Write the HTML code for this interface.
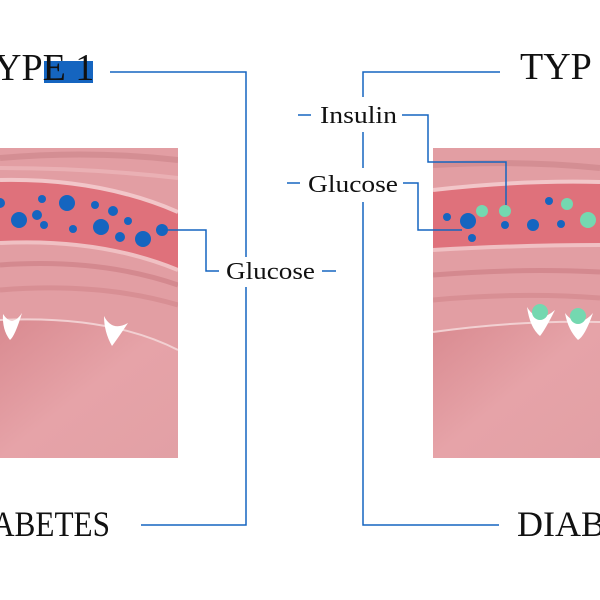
<!DOCTYPE html>
<html><head><style>
html,body{margin:0;padding:0;background:#fff;width:600px;height:600px;overflow:hidden}
text{font-family:"Liberation Serif",serif;fill:#111}
</style></head><body>
<svg width="600" height="600" viewBox="0 0 600 600">
<defs>
<linearGradient id="bg" x1="0" y1="0" x2="1" y2="1"><stop offset="0" stop-color="#d98a90"/><stop offset="0.5" stop-color="#e6a3a8"/><stop offset="1" stop-color="#e2a0a5"/></linearGradient>
<clipPath id="cl"><rect x="0" y="148" width="178" height="310"/></clipPath>
<clipPath id="cr"><rect x="433" y="148" width="167" height="310"/></clipPath>
</defs>
<g clip-path="url(#cl)">
<rect x="0" y="148" width="178" height="310" fill="#e29ea3"/>
<path d="M0 158 Q90 150 178 160" stroke="#d48e93" stroke-width="6" fill="none"/>
<path d="M0 168 Q90 168 178 178" stroke="#eab0b4" stroke-width="4" fill="none"/>
<path d="M0 180 Q100 178 178 212 L178 270 Q100 238 0 243 Z" fill="#df717b"/>
<path d="M0 180 Q100 178 178 212" stroke="#f2c6c9" stroke-width="4" fill="none"/>
<path d="M0 243 Q100 238 178 270" stroke="#f0c0c3" stroke-width="4" fill="none"/>
<path d="M0 265 Q100 258 178 285" stroke="#d4898f" stroke-width="5" fill="none"/>
<path d="M0 290 Q100 282 178 305" stroke="#d88f94" stroke-width="5" fill="none"/>
<path d="M0 320 Q110 315 178 350 L178 458 L0 458 Z" fill="url(#bg)"/>
<path d="M0 320 Q110 315 178 350" stroke="#f2d0d2" stroke-width="2" fill="none"/>
<path d="M3 314 Q12 328 22 313 Q15 336 10 340 Q2 330 3 314Z" fill="#fff"/>
<path d="M104 316 Q112 332 128 323 Q118 338 112 346 Q104 332 104 316Z" fill="#fff"/>
<g fill="#1565c0">
<circle cx="0" cy="203" r="5"/><circle cx="19" cy="220" r="8"/><circle cx="37" cy="215" r="5"/><circle cx="42" cy="199" r="4"/><circle cx="44" cy="225" r="4"/><circle cx="67" cy="203" r="8"/><circle cx="73" cy="229" r="4"/><circle cx="95" cy="205" r="4"/><circle cx="113" cy="211" r="5"/><circle cx="101" cy="227" r="8"/><circle cx="128" cy="221" r="4"/><circle cx="120" cy="237" r="5"/><circle cx="143" cy="239" r="8"/><circle cx="162" cy="230" r="6"/>
</g>
</g>
<g clip-path="url(#cr)">
<rect x="433" y="148" width="167" height="310" fill="#e29ea3"/>
<path d="M433 165 Q520 160 600 168" stroke="#d48e93" stroke-width="6" fill="none"/>
<path d="M433 190 Q520 180 600 182 L600 245 Q520 245 433 250 Z" fill="#df717b"/>
<path d="M433 190 Q520 180 600 182" stroke="#f2c6c9" stroke-width="4" fill="none"/>
<path d="M433 250 Q520 245 600 245" stroke="#f0c0c3" stroke-width="4" fill="none"/>
<path d="M433 275 Q520 268 600 272" stroke="#d4898f" stroke-width="5" fill="none"/>
<path d="M433 300 Q520 292 600 298" stroke="#d88f94" stroke-width="5" fill="none"/>
<path d="M433 332 Q520 320 600 322 L600 458 L433 458 Z" fill="url(#bg)"/>
<path d="M433 332 Q520 320 600 322" stroke="#f2d0d2" stroke-width="2" fill="none"/>
<path d="M527 307 Q538 325 555 310 Q545 330 540 336 Q530 328 527 307Z" fill="#fff"/>
<path d="M565 313 Q578 330 593 313 Q585 336 578 340 Q568 330 565 313Z" fill="#fff"/>
<g fill="#74d8b0"><circle cx="540" cy="312" r="8"/><circle cx="578" cy="316" r="8"/>
<circle cx="482" cy="211" r="6"/><circle cx="505" cy="211" r="6"/><circle cx="567" cy="204" r="6"/><circle cx="588" cy="220" r="8"/></g>
<g fill="#1565c0"><circle cx="447" cy="217" r="4"/><circle cx="468" cy="221" r="8"/><circle cx="505" cy="225" r="4"/><circle cx="472" cy="238" r="4"/><circle cx="533" cy="225" r="6"/><circle cx="549" cy="201" r="4"/><circle cx="561" cy="224" r="4"/></g>
</g>
<g stroke="#1565c0" stroke-width="1.5" fill="none">
<polyline points="110,72 246,72 246,257"/>
<polyline points="246,287 246,525 141,525"/>
<polyline points="162,230 206,230 206,271 219,271"/>
<line x1="322" y1="271" x2="336" y2="271"/>
<polyline points="500,72 363,72 363,97"/>
<line x1="363" y1="132" x2="363" y2="168"/>
<polyline points="363,202 363,525 499,525"/>
<line x1="298" y1="115" x2="311" y2="115"/>
<line x1="287" y1="183" x2="300" y2="183"/>
<polyline points="402,115 428,115 428,162 506,162 506,205"/>
<polyline points="403,183 418,183 418,230 462,230"/>
</g>
<rect x="44" y="61" width="49" height="22" fill="#1565c0"/>
<text x="-6" y="80" font-size="38">YPE 1</text>
<text x="520" y="79" font-size="38">TYP</text>
<text x="-8" y="536" font-size="36" textLength="118" lengthAdjust="spacingAndGlyphs">ABETES</text>
<text x="517" y="536" font-size="36">DIAB</text>
<text x="226" y="279" font-size="24" textLength="89" lengthAdjust="spacingAndGlyphs">Glucose</text>
<text x="320" y="123" font-size="24" textLength="77" lengthAdjust="spacingAndGlyphs">Insulin</text>
<text x="308" y="192" font-size="24" textLength="90" lengthAdjust="spacingAndGlyphs">Glucose</text>
</svg>
</body></html>
